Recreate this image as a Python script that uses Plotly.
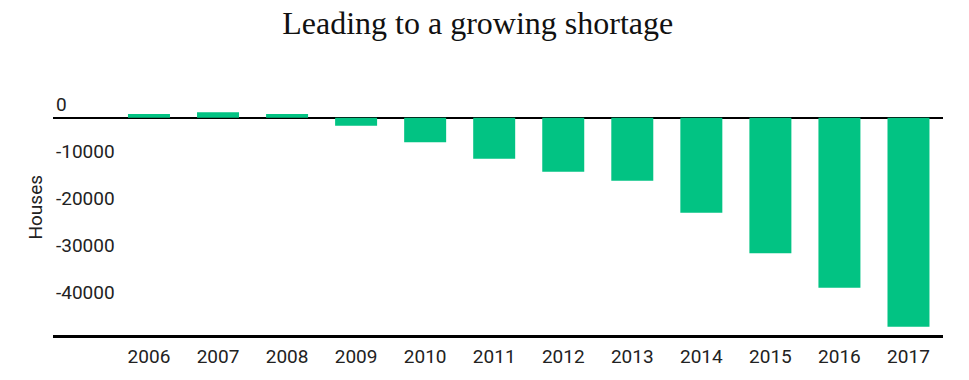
import plotly.graph_objects as go

years = ["2006", "2007", "2008", "2009", "2010", "2011", "2012", "2013", "2014", "2015", "2016", "2017"]
houses = [800, 1150, 800, -1700, -5200, -8700, -11500, -13400, -20200, -28800, -36100, -44400]
y_ticks = [0, -10000, -20000, -30000, -40000]

SANS = "Roboto, Arial, sans-serif"

fig = go.Figure()
fig.add_trace(go.Bar(
    x=years, y=houses,
    marker=dict(color="#02c383", line=dict(width=0)),
    hoverinfo="x+y",
))

fig.update_layout(
    width=969, height=380,
    margin=dict(l=53, r=26, t=80, b=45),
    paper_bgcolor="white", plot_bgcolor="white",
    bargap=0.392,
    showlegend=False,
    title=dict(
        text="Leading to a growing shortage",
        font=dict(family="Liberation Serif, Georgia, serif", size=32, color="#111111"),
        x=0.493, xanchor="center", xref="container",
        y=0.94, yanchor="middle", yref="container",
    ),
    font=dict(family=SANS, size=19, color="#222222"),
)

fig.update_xaxes(
    type="category",
    range=[-1.39, 11.5],
    showgrid=False, zeroline=False,
    showline=True, linecolor="black", linewidth=3,
    ticks="", ticklabelstandoff=2,
    tickfont=dict(family=SANS, size=19, color="#222222"),
    fixedrange=True,
)

fig.update_yaxes(
    range=[-46140, 8000],
    tickvals=y_ticks,
    ticktext=[str(v) for v in y_ticks],
    ticklabelposition="inside top",
    showgrid=False,
    zeroline=True, zerolinecolor="black", zerolinewidth=2,
    showline=False, ticks="",
    tickfont=dict(family=SANS, size=19, color="#222222"),
    fixedrange=True,
)

fig.add_annotation(
    text="Houses", textangle=-90,
    xref="paper", yref="paper", x=-0.0202, y=0.5,
    xanchor="center", yanchor="middle", showarrow=False,
    font=dict(family=SANS, size=19, color="#222222"),
)

fig.write_html(
    "out.html",
    config={"displayModeBar": False},
    post_script="document.body.style.margin='0';document.body.style.padding='0';",
)
